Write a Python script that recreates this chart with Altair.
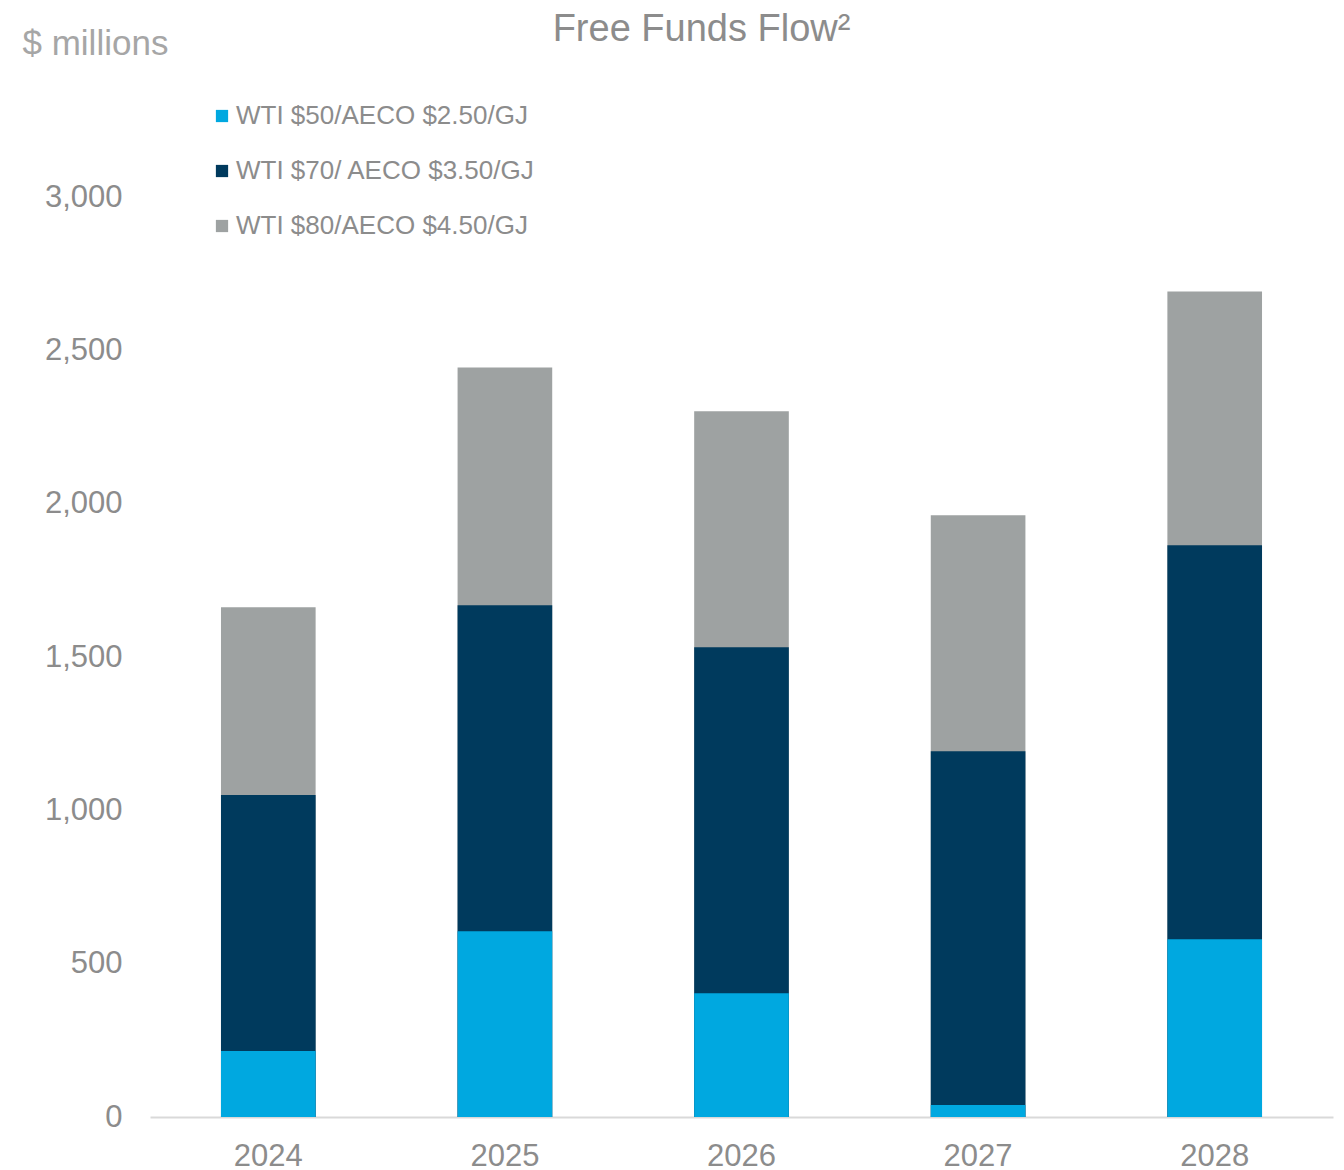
import altair as alt
import pandas as pd

years = ["2024", "2025", "2026", "2027", "2028"]
scenarios = ["WTI $50/AECO $2.50/GJ", "WTI $70/ AECO $3.50/GJ", "WTI $80/AECO $4.50/GJ"]
wti50 = [215, 606, 404, 39, 580]
wti70 = [1050, 1669, 1532, 1193, 1865]
wti80 = [1663, 2445, 2302, 1963, 2693]
colors = ["#00A8E0", "#003A5D", "#9EA2A2"]

rows = []
# draw order: tallest scenario first so smaller ones overlay it
for order, (name, vals) in enumerate([(scenarios[2], wti80), (scenarios[1], wti70), (scenarios[0], wti50)]):
    for y, v in zip(years, vals):
        rows.append({"Year": y, "Scenario": name, "Value": v, "ord": order})
df = pd.DataFrame(rows)

TXT = "#8C8C8C"
FONT = "Liberation Sans"

chart = alt.Chart(df).mark_bar().encode(
    x=alt.X("Year:N", sort=years,
            scale=alt.Scale(paddingInner=0.6, paddingOuter=0.3),
            axis=alt.Axis(title=None, labelAngle=0, ticks=False, domainColor="#D9D9D9",
                          domainWidth=2, labelFontSize=31, labelColor=TXT, labelFont=FONT,
                          labelPadding=24)),
    y=alt.Y("Value:Q", stack=None,
            scale=alt.Scale(domain=[0, 3500], nice=False),
            axis=alt.Axis(title="$ millions", values=[0, 500, 1000, 1500, 2000, 2500, 3000],
                          format=",.0f", grid=False, domain=False, ticks=False,
                          labelFontSize=31, labelColor=TXT, labelFont=FONT, labelPadding=28,
                          titleAngle=0, titleX=-128, titleY=10, titleAlign="left",
                          titleBaseline="alphabetic", titleFontSize=35, titleColor="#A6A6A6",
                          titleFont=FONT, titleFontWeight="normal")),
    color=alt.Color("Scenario:N", sort=scenarios,
                    scale=alt.Scale(domain=scenarios, range=colors),
                    legend=alt.Legend(title=None, orient="none", legendX=59, legendY=59,
                                      symbolType="square", symbolSize=150, symbolStrokeWidth=0,
                                      labelFontSize=26, labelColor=TXT, labelFont=FONT,
                                      labelLimit=600, rowPadding=29, labelOffset=1)),
    order=alt.Order("ord:Q"),
).properties(
    width=1183,
    height=1073,
    title=alt.TitleParams(text="Free Funds Flow²", fontSize=38, color=TXT, font=FONT,
                          fontWeight="normal", anchor="middle", dx=-40, dy=29, offset=6),
    autosize=alt.AutoSizeParams(type="none"),
    padding={"left": 142, "top": 36, "right": 3, "bottom": 60},
).configure_view(stroke=None)

chart.save("out.html", embed_options={"renderer": "svg", "actions": False})
